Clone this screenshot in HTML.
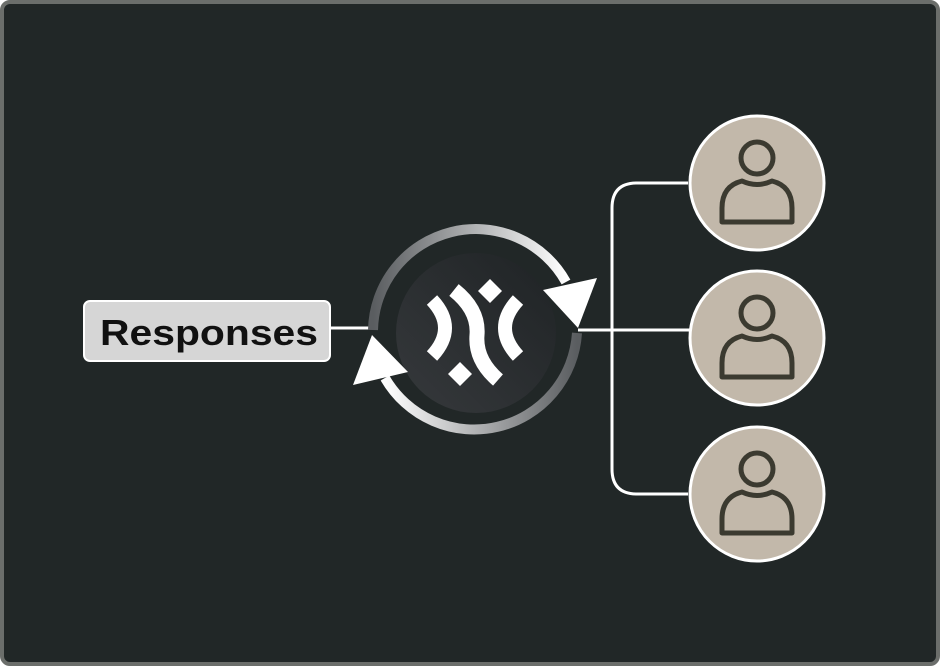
<!DOCTYPE html>
<html><head><style>
html,body{margin:0;padding:0;background:#fff}
</style></head><body>
<svg width="940" height="666" viewBox="0 0 940 666" xmlns="http://www.w3.org/2000/svg">
<defs>
<linearGradient id="g1" x1="0" y1="0" x2="1" y2="0">
<stop offset="0" stop-color="#5a5d60"/><stop offset="1" stop-color="#ffffff"/>
</linearGradient>
<linearGradient id="g2" x1="1" y1="0" x2="0" y2="0">
<stop offset="0" stop-color="#5a5d60"/><stop offset="1" stop-color="#ffffff"/>
</linearGradient>
<linearGradient id="gc" x1="1" y1="0" x2="0" y2="1">
<stop offset="0" stop-color="#1f2325"/><stop offset="1" stop-color="#36393c"/>
</linearGradient>
</defs>
<rect x="2" y="2" width="936" height="662" rx="8" fill="#212727" stroke="#6b6e6b" stroke-width="4"/>
<line x1="330" y1="328" x2="370" y2="328" stroke="#fff" stroke-width="3"/>
<line x1="578" y1="330" x2="690" y2="330" stroke="#fff" stroke-width="3"/>
<path d="M688,183 H637 Q612,183 612,208 V469 Q612,494 637,494 H688" fill="none" stroke="#fff" stroke-width="3"/>
<circle cx="476" cy="333" r="80" fill="url(#gc)"/>
<path d="M373,330 A103,103 0 0 1 566,282" fill="none" stroke="url(#g1)" stroke-width="10"/>
<path d="M577,333 A103,103 0 0 1 385,378" fill="none" stroke="url(#g2)" stroke-width="10"/>
<polygon points="543,290 597,278 578,328" fill="#fff"/>
<polygon points="353,385 408,372 372,335" fill="#fff"/>
<g fill="none" stroke="#fff" stroke-width="14">
<path d="M432,300 Q458,328 432,356"/>
<path d="M518,300 Q492,328 518,356"/>
<path d="M454,290 Q479,310 477,335 Q475,360 498,380" stroke-width="15"/>
</g>
<polygon points="490,279 502,291 490,303 478,291" fill="#fff"/>
<polygon points="460,362 472,374 460,386 448,374" fill="#fff"/>
<rect x="84" y="301" width="246" height="60" rx="6" fill="#d6d6d6" stroke="#fff" stroke-width="2"/>
<text x="100" y="345" textLength="218" lengthAdjust="spacingAndGlyphs" font-family="Liberation Sans, sans-serif" font-weight="bold" font-size="36" fill="#111">Responses</text>
<g id="p">
<circle cx="757" cy="183" r="67" fill="#c2b8aa" stroke="#fff" stroke-width="3"/>
<circle cx="757" cy="158" r="16" fill="none" stroke="#3b3a30" stroke-width="5"/>
<path d="M722,222 V208 Q722,186 742,181 Q757,188 772,181 Q792,186 792,208 V222 Z" fill="none" stroke="#3b3a30" stroke-width="5" stroke-linejoin="round"/>
</g>
<use href="#p" y="155"/>
<use href="#p" y="311"/>
</svg>
</body></html>
